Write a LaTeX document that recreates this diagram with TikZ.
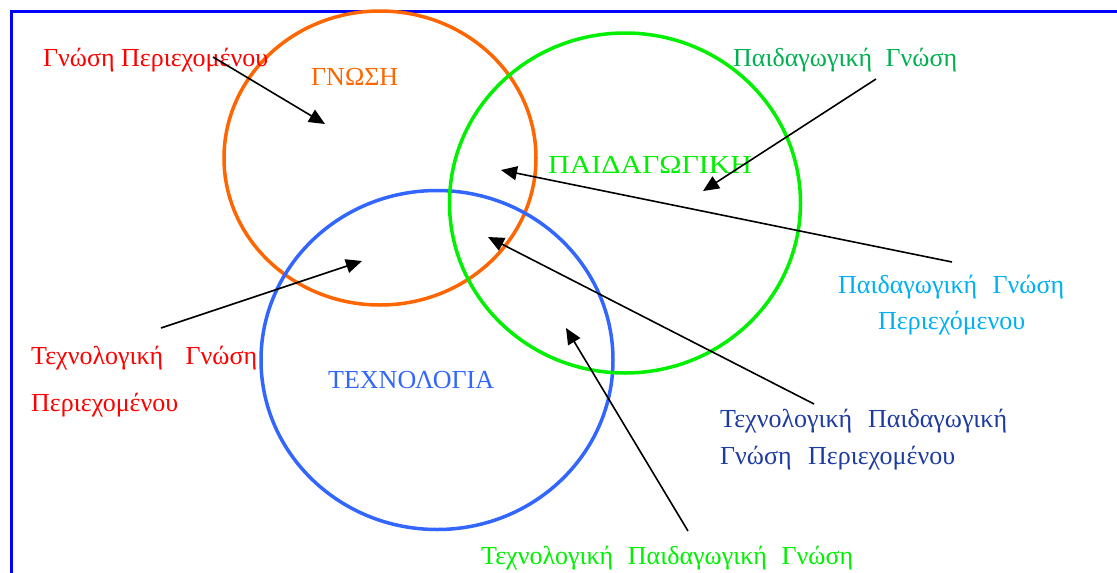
\documentclass[tikz,border=0pt]{standalone}
\usepackage{fontspec}
\setmainfont{Liberation Serif}
\usetikzlibrary{arrows.meta,shapes.geometric}
\definecolor{frameblue}{RGB}{0,0,255}
\definecolor{gnorange}{RGB}{255,102,0}
\definecolor{pedgreen}{RGB}{0,240,0}
\definecolor{techblue}{RGB}{51,102,255}
\definecolor{txtred}{RGB}{255,0,0}
\definecolor{txtdkgreen}{RGB}{0,176,80}
\definecolor{txtltblue}{RGB}{0,176,240}
\definecolor{txtdkblue}{RGB}{30,60,160}
\begin{document}
\begin{tikzpicture}[x=1pt,y=-1pt,
  ring/.style={draw, ellipse, line width=3.5pt, inner sep=0pt},
  lbl/.style={anchor=base west, inner sep=0pt, font=\fontsize{26}{30}\selectfont},
  ptr/.style={draw=black, line width=1.6pt, -{Triangle[length=16pt,width=14pt]}}]
\useasboundingbox (0,0) rectangle (1117,573);
\begin{scope}
\clip (0,0) rectangle (1117,573);
\draw[frameblue, line width=3pt] (11.5,11.5) rectangle (1140,600);
\end{scope}
% circles
\node[ring, draw=gnorange, minimum width=312pt, minimum height=294pt] (gnosi) at (380,158) {};
\node[ring, draw=techblue, minimum width=352pt, minimum height=339pt] (tech) at (437,360) {};
\node[ring, draw=pedgreen, minimum width=351pt, minimum height=340pt] (ped) at (625,203) {};
% labels
\node[lbl, text=txtred] (ck) at (43,66) {\makebox[225pt][s]{Γνώση Περιεχομένου}};
\node[lbl, text=gnorange] (tg) at (311,85) {ΓΝΩΣΗ};
\node[lbl, text=txtdkgreen] (pk) at (733,66) {\makebox[224pt][s]{Παιδαγωγική Γνώση}};
\node[lbl, text=pedgreen] (tp) at (548,173) {\scalebox{1.15}[1]{ΠΑΙΔΑΓΩΓΙΚΗ}};
\node[lbl, text=txtltblue] (pck1) at (838,293) {\makebox[226pt][s]{Παιδαγωγική Γνώση}};
\node[lbl, text=txtltblue] (pck2) at (878,329) {Περιεχόμενου};
\node[lbl, text=txtred] (tck1) at (31,364) {\makebox[226pt][s]{Τεχνολογική Γνώση}};
\node[lbl, text=txtred] (tck2) at (31,411) {Περιεχομένου};
\node[lbl, text=techblue] (tt) at (328,388) {ΤΕΧΝΟΛΟΓΙΑ};
\node[lbl, text=txtdkblue] (tpck1) at (720,427) {\makebox[287pt][s]{Τεχνολογική Παιδαγωγική}};
\node[lbl, text=txtdkblue] (tpck2) at (720,464) {\makebox[235pt][s]{Γνώση Περιεχομένου}};
\node[lbl, text=pedgreen] (tpk) at (481,564) {\makebox[372pt][s]{Τεχνολογική Παιδαγωγική Γνώση}};
% arrow ends
\coordinate (a1s) at (213,57);  \coordinate (a1e) at (325,124);
\coordinate (a2s) at (876,79);  \coordinate (a2e) at (703,191);
\coordinate (a3s) at (952,262); \coordinate (a3e) at (501,170);
\coordinate (a4s) at (161,328); \coordinate (a4e) at (362,261);
\coordinate (a5s) at (814,404); \coordinate (a5e) at (488,237);
\coordinate (a6s) at (688,531); \coordinate (a6e) at (566,328);
\draw[ptr] (a1s) -- (a1e);
\draw[ptr] (a2s) -- (a2e);
\draw[ptr] (a3s) -- (a3e);
\draw[ptr] (a4s) -- (a4e);
\draw[ptr] (a5s) -- (a5e);
\draw[ptr] (a6s) -- (a6e);
\end{tikzpicture}
\end{document}
